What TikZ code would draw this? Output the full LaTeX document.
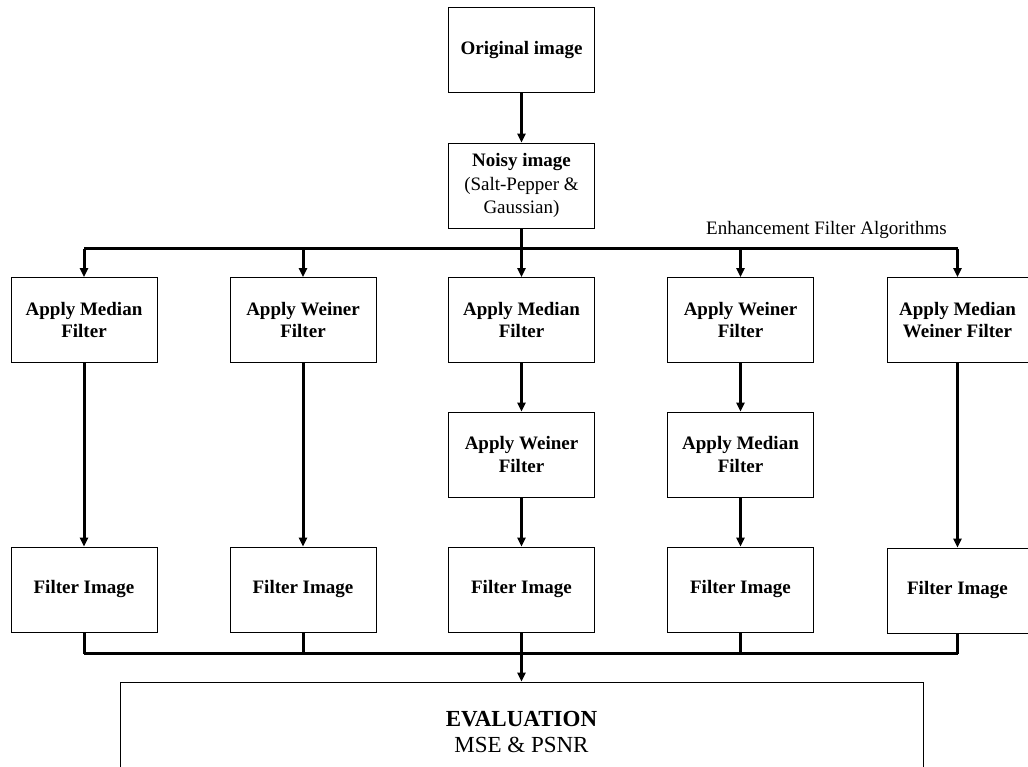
\documentclass[tikz,border=0pt]{standalone}
\usepackage{fontspec}
\setmainfont{Liberation Serif}
\usetikzlibrary{arrows.meta}

\begin{document}
\begin{tikzpicture}[x=1pt, y=1pt,
	box/.style={draw, line width=0.8pt, minimum width=146, minimum height=85,
		align=center, font=\fontsize{19}{22.5}\selectfont\bfseries},
	link/.style={line width=3pt},
	arr/.style={link, -{Triangle[length=9pt,width=8pt]}}]
	\useasboundingbox (0,0) rectangle (1028,767);
	\clip (0,0) rectangle (1028,767);

	\node[box, font=\fontsize{19}{23.5}\selectfont\bfseries] (orig) at (521.5,717) {Original image};
	\node[box, font=\fontsize{19}{23.5}\selectfont\bfseries] (noisy) at (521.5,581.5) {Noisy image\\
		\textnormal{(Salt-Pepper \&}\\ \textnormal{Gaussian)}};

	% first filter of every column
	\node[box] (med1) at (84,447) {Apply Median\\Filter};
	\node[box] (wei2) at (303,447) {Apply Weiner\\Filter};
	\node[box] (med3) at (521.5,447) {Apply Median\\Filter};
	\node[box] (wei4) at (740.5,447) {Apply Weiner\\Filter};
	\node[box, minimum width=141] (mw5) at (957.5,447) {Apply Median\\Weiner Filter};

	% second filter
	\node[box] (wei3) at (521.5,312.5) {Apply Weiner\\Filter};
	\node[box] (med4) at (740.5,312.5) {Apply Median\\Filter};

	% results
	\node[box] (fi1) at (84,177.5) {Filter Image};
	\node[box] (fi2) at (303,177.5) {Filter Image};
	\node[box] (fi3) at (521.5,177.5) {Filter Image};
	\node[box] (fi4) at (740.5,177.5) {Filter Image};
	\node[box, minimum width=141] (fi5) at (957.5,176.5) {Filter Image};

	\node[draw, line width=0.8pt, minimum width=803, minimum height=100, align=center,
		font=\fontsize{23}{25.5}\selectfont] (eval) at (521.5,35)
		{\textbf{EVALUATION}\\MSE \& PSNR};

	\node[font=\fontsize{19}{22}\selectfont] (algo) at (826.5,537) {Enhancement Filter Algorithms};

	\coordinate (busA) at (521.5,518);
	\coordinate (busB) at (521.5,113);

	\draw[arr] (orig) -- (noisy);
	\draw[link] (noisy) -- (busA);
	\draw[link] (med1.north |- busA) -- (mw5.north |- busA);
	\foreach \n in {med1,wei2,med3,wei4,mw5}
		\draw[arr] (\n.north |- busA) -- (\n);

	\draw[arr] (med1) -- (fi1);
	\draw[arr] (wei2) -- (fi2);
	\draw[arr] (med3) -- (wei3);
	\draw[arr] (wei3) -- (fi3);
	\draw[arr] (wei4) -- (med4);
	\draw[arr] (med4) -- (fi4);
	\draw[arr] (mw5) -- (fi5);

	\foreach \n in {fi1,fi2,fi3,fi4,fi5}
		\draw[link] (\n) -- (\n.south |- busB);
	\draw[link] (fi1.south |- busB) -- (fi5.south |- busB);
	\draw[arr] (busB) -- (eval);

\end{tikzpicture}
\end{document}
